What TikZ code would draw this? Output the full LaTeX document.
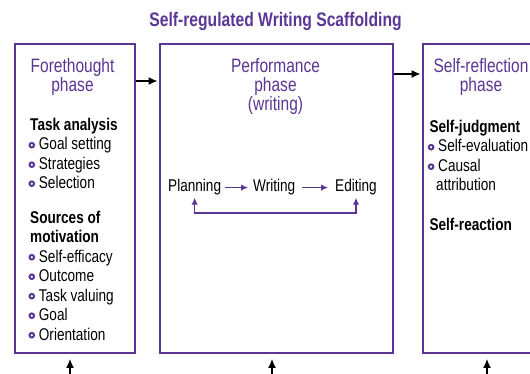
\documentclass[tikz,border=0pt]{standalone}
\usepackage{fontspec}
\setmainfont{Liberation Sans}[FakeStretch=0.8]
\usetikzlibrary{arrows.meta,calc}
\definecolor{srlpurple}{HTML}{5B3795}
\begin{document}
\begin{tikzpicture}[x=1pt,y=-1pt,
  phasebox/.style={draw=srlpurple, line width=2.4pt, fill=white, inner sep=0pt, anchor=north west, minimum height=309pt},
  headtext/.style={text=srlpurple, font=\fontsize{19.4}{20}\selectfont, anchor=base, inner sep=0pt},
  titletext/.style={text=srlpurple, font=\bfseries\fontsize{19.6}{21}\selectfont, anchor=base, inner sep=0pt},
  subhead/.style={font=\bfseries\fontsize{17}{19}\selectfont, anchor=base west, inner sep=0pt},
  itemtext/.style={font=\fontsize{17}{19}\selectfont, anchor=base west, inner sep=0pt},
  stagetext/.style={font=\fontsize{17}{19}\selectfont, anchor=base west, inner sep=2pt},
  ring/.style={circle, draw=srlpurple, line width=2pt, minimum size=4.6pt, inner sep=0pt},
  flow/.style={draw=black, line width=1.3pt, -{Latex[length=9pt,width=8pt]}},
  cycle/.style={draw=srlpurple, line width=1.2pt},
  tip/.style={-{Latex[length=7pt,width=6.5pt]}}]
\useasboundingbox (0,0) rectangle (530,374);
\clip (0,0) rectangle (530,374);

% title
\node[titletext] (title) at (275.5,27) {Self-regulated Writing Scaffolding};

% the three phase boxes
\node[phasebox, minimum width=120pt] (fore) at (14,43) {};
\node[phasebox, minimum width=233pt] (perf) at (159,43) {};
\node[phasebox, minimum width=150pt] (refl) at (422,43) {};

% phase headings
\node[headtext] (foreA) at (72.5,72.5) {Forethought};
\node[headtext] (foreB) at (72.5,91.5) {phase};
\node[headtext] (perfA) at (275.5,72.5) {Performance};
\node[headtext] (perfB) at (275.5,91.5) {phase};
\node[headtext] (perfC) at (275.5,110.5) {(writing)};
\node[headtext] (reflA) at (481,72.5) {Self-reflection};
\node[headtext] (reflB) at (481,91.5) {phase};

% forethought content
\node[subhead] (task) at (30,130.5) {Task analysis};
\foreach \t/\yy [count=\i] in {Goal setting/150, Strategies/169.5, Selection/188.5}{
  \node[itemtext] (ta\i) at (38.7,\yy) {\t};
  \node[ring] (tb\i) at ($(ta\i.base west)+(-6.9,-4.8)$) {};
}
\node[subhead] (srcA) at (30,223) {Sources of};
\node[subhead] (srcB) at (30,242.5) {motivation};
\foreach \t/\yy [count=\i] in {Self-efficacy/262, Outcome/281.5, Task valuing/301, Goal/320.5, Orientation/340}{
  \node[itemtext] (mo\i) at (38.7,\yy) {\t};
  \node[ring] (mb\i) at ($(mo\i.base west)+(-6.9,-4.8)$) {};
}

% self-reflection content
\node[subhead] (judg) at (429.3,132.5) {Self-judgment};
\node[itemtext] (eval) at (438,152) {Self-evaluation};
\node[ring] (evalb) at ($(eval.base west)+(-6.9,-4.8)$) {};
\node[itemtext] (caus) at (438,171.5) {Causal};
\node[ring] (causb) at ($(caus.base west)+(-6.9,-4.8)$) {};
\node[itemtext] (attr) at (436,191) {attribution};
\node[subhead] (reac) at (429.3,230) {Self-reaction};

% writing cycle
\node[stagetext] (plan) at (166,192) {Planning};
\node[stagetext] (writ) at (251,192) {Writing};
\node[stagetext] (edit) at (333,192) {Editing};
\draw[cycle, tip, shorten <=2pt, shorten >=3pt] (plan.east) -- (writ.west);
\draw[cycle, tip, shorten <=5pt, shorten >=5pt] (writ.east) -- (edit.west);
\coordinate (loop) at (276,213);
\draw[cycle, {Latex[length=7pt,width=6.5pt]}-{Latex[length=7pt,width=6.5pt]}] (plan.south) |- (loop) -| (edit.south);

% flow between phases
\draw[flow, shorten >=1.5pt] ($(fore.north east)+(0,38)$) -- ($(perf.north west)+(0,38)$);
\draw[flow, shorten >=1.5pt] ($(perf.north east)+(0,31)$) -- ($(refl.north west)+(0,31)$);

% inputs from below
\coordinate (inF) at (70,376);
\coordinate (inP) at (272,376);
\coordinate (inR) at (487,376);
\draw[flow, shorten >=4.5pt] (inF) -- (inF |- fore.south);
\draw[flow, shorten >=4.5pt] (inP) -- (inP |- perf.south);
\draw[flow, shorten >=4.5pt] (inR) -- (inR |- refl.south);
\end{tikzpicture}
\end{document}
